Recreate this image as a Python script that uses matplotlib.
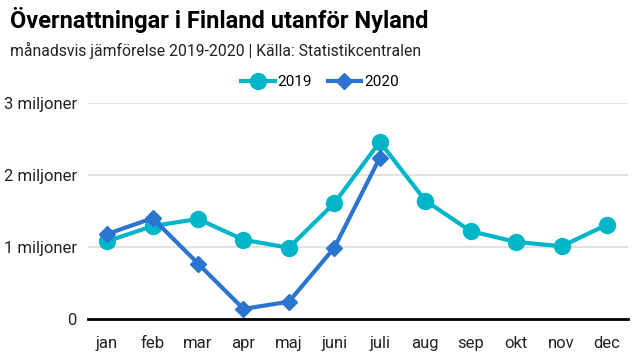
import matplotlib
matplotlib.use('Agg')
import matplotlib.pyplot as plt
from matplotlib.ticker import FixedLocator

manader = ["jan", "feb", "mar", "apr", "maj", "juni", "juli", "aug", "sep", "okt", "nov", "dec"]
# miljoner övernattningar
ar_2019 = [1.08, 1.29, 1.39, 1.10, 0.99, 1.61, 2.46, 1.645, 1.22, 1.07, 1.01, 1.31]
ar_2020 = [1.18, 1.40, 0.77, 0.14, 0.24, 0.99, 2.24]
ytick_varden = [0, 1, 2, 3]
ytick_text = ["0", "1 miljoner", "2 miljoner", "3 miljoner"]

plt.rcParams['font.family'] = ['Roboto', 'DejaVu Sans']

fig = plt.figure(figsize=(6.4, 3.6), dpi=100)
ax = fig.add_axes([88/640, 1 - 319/360, (628-88)/640, (319-103)/360])

x = list(range(len(manader)))
ax.plot(x, ar_2019, color='#00b5c8', lw=3, marker='o', ms=11.5, label='2019', zorder=3)
ax.plot(x[:len(ar_2020)], ar_2020, color='#2b74d0', lw=3, marker='D', ms=8.5, label='2020', zorder=4)

ax.set_xlim(-0.42, 11.46)
ax.set_ylim(0, 3.0)
ax.yaxis.set_major_locator(FixedLocator(ytick_varden))
ax.set_yticklabels(ytick_text, fontsize=12, color='#222222')
ax.set_xticks(x)
ax.set_xticklabels(manader, fontsize=12, color='#222222')
ax.tick_params(axis='x', length=0, pad=12)
ax.tick_params(axis='y', length=0, pad=8)
ax.grid(axis='y', color='#dddddd', lw=1.2)
ax.set_axisbelow(True)
for s in ['top', 'right', 'left']:
    ax.spines[s].set_visible(False)
ax.spines['bottom'].set_linewidth(2)
ax.spines['bottom'].set_color('black')
ax.spines['bottom'].set_zorder(5)
for l in ax.lines:
    l.set_clip_on(False)

fig.text(10/640, 1 - 20/360, "Övernattningar i Finland utanför Nyland", fontsize=17,
         fontweight='bold', va='center', ha='left')
fig.text(10/640, 1 - 50/360, "månadsvis jämförelse 2019-2020 | Källa: Statistikcentralen",
         fontsize=11.3, va='center', ha='left', color='#222222')

fig.legend(loc='center', bbox_to_anchor=(320/640, 1 - 82/360), ncol=2, frameon=False,
           fontsize=11, handlelength=2.2, handletextpad=0.2, columnspacing=1.0)

fig.savefig('out.png', dpi=100)
